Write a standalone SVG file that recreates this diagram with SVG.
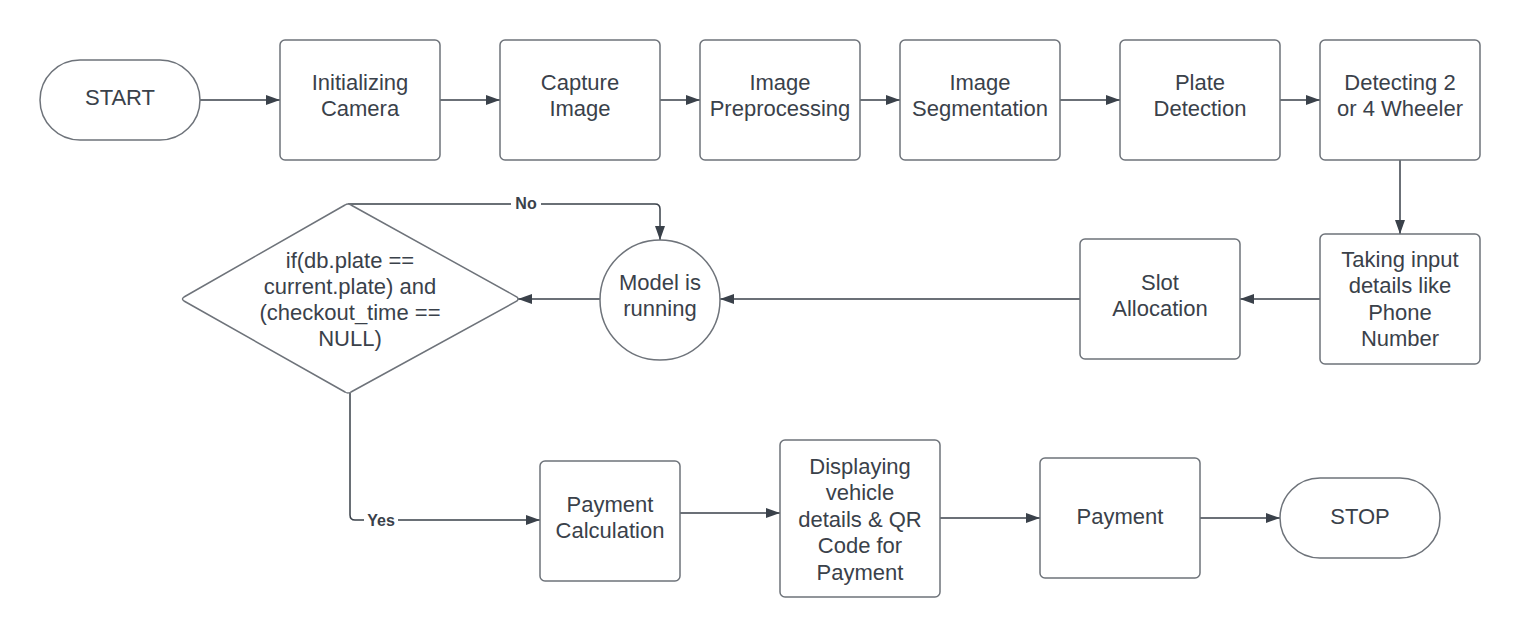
<svg xmlns="http://www.w3.org/2000/svg" width="1520" height="637" viewBox="0 0 1520 637">
<defs>
<style>
.box{fill:#ffffff;stroke:#6e737a;stroke-width:1.5}
.t{font-family:"Liberation Sans",Arial,sans-serif;font-size:22px;fill:#3a414a;text-anchor:middle}
.lbl{font-family:"Liberation Sans",Arial,sans-serif;font-size:16px;font-weight:bold;fill:#3a414a;text-anchor:middle}
.c{fill:none;stroke:#3a414a;stroke-width:1.5}
</style>
<marker id="ah" viewBox="0 0 14 10" refX="14" refY="5" markerWidth="14" markerHeight="10" markerUnits="userSpaceOnUse" orient="auto">
<path d="M0,0 L14,5 L0,10 Z" fill="#3a414a"/>
</marker>
</defs>
<rect width="1520" height="637" fill="#ffffff"/>
<g id="connectors">
<path class="c" d="M200,100 H280" marker-end="url(#ah)"/>
<path class="c" d="M440,100 H500" marker-end="url(#ah)"/>
<path class="c" d="M660,100 H700" marker-end="url(#ah)"/>
<path class="c" d="M860,100 H900" marker-end="url(#ah)"/>
<path class="c" d="M1060,100 H1120" marker-end="url(#ah)"/>
<path class="c" d="M1280,100 H1320" marker-end="url(#ah)"/>
<path class="c" d="M1400,160 V234" marker-end="url(#ah)"/>
<path class="c" d="M1320,299 H1240" marker-end="url(#ah)"/>
<path class="c" d="M1080,299 H720" marker-end="url(#ah)"/>
<path class="c" d="M600,299 H518" marker-end="url(#ah)"/>
<path class="c" d="M348,204 H655 Q660,204 660,209 V240" marker-end="url(#ah)"/>
<path class="c" d="M350,393 V515 Q350,520 355,520 H540" marker-end="url(#ah)"/>
<path class="c" d="M680,513 H780" marker-end="url(#ah)"/>
<path class="c" d="M940,518 H1040" marker-end="url(#ah)"/>
<path class="c" d="M1200,518 H1280" marker-end="url(#ah)"/>
<rect x="511" y="194" width="30" height="19" fill="#ffffff"/>
<text class="lbl" x="526" y="209">No</text>
<rect x="364" y="511" width="34" height="19" fill="#ffffff"/>
<text class="lbl" x="381" y="526">Yes</text>
</g>
<g id="start">
<rect class="box" x="40" y="60" width="160" height="80" rx="40"/>
<text class="t" x="120" y="105">START</text>
</g>
<g id="init-camera">
<rect class="box" x="280" y="40" width="160" height="120" rx="5"/>
<text class="t" x="360" y="90">Initializing</text>
<text class="t" x="360" y="116">Camera</text>
</g>
<g id="capture-image">
<rect class="box" x="500" y="40" width="160" height="120" rx="5"/>
<text class="t" x="580" y="90">Capture</text>
<text class="t" x="580" y="116">Image</text>
</g>
<g id="image-preprocessing">
<rect class="box" x="700" y="40" width="160" height="120" rx="5"/>
<text class="t" x="780" y="90">Image</text>
<text class="t" x="780" y="116">Preprocessing</text>
</g>
<g id="image-segmentation">
<rect class="box" x="900" y="40" width="160" height="120" rx="5"/>
<text class="t" x="980" y="90">Image</text>
<text class="t" x="980" y="116">Segmentation</text>
</g>
<g id="plate-detection">
<rect class="box" x="1120" y="40" width="160" height="120" rx="5"/>
<text class="t" x="1200" y="90">Plate</text>
<text class="t" x="1200" y="116">Detection</text>
</g>
<g id="detecting-wheeler">
<rect class="box" x="1320" y="40" width="160" height="120" rx="5"/>
<text class="t" x="1400" y="90">Detecting 2</text>
<text class="t" x="1400" y="116">or 4 Wheeler</text>
</g>
<g id="taking-input">
<rect class="box" x="1320" y="234" width="160" height="130" rx="5"/>
<text class="t" x="1400" y="267">Taking input</text>
<text class="t" x="1400" y="293">details like</text>
<text class="t" x="1400" y="320">Phone</text>
<text class="t" x="1400" y="346">Number</text>
</g>
<g id="slot-allocation">
<rect class="box" x="1080" y="239" width="160" height="120" rx="5"/>
<text class="t" x="1160" y="290">Slot</text>
<text class="t" x="1160" y="316">Allocation</text>
</g>
<g id="model-running">
<circle class="box" cx="660" cy="300" r="60"/>
<text class="t" x="660" y="290">Model is</text>
<text class="t" x="660" y="316">running</text>
</g>
<g id="decision">
<path class="box" d="M345,205 Q348,203 351,205 L517,297 Q519,299 517,301 L351,392 Q348,394 345,392 L184,301 Q181,299 184,297 Z"/>
<text class="t" x="350" y="268">if(db.plate ==</text>
<text class="t" x="350" y="294">current.plate) and</text>
<text class="t" x="350" y="320">(checkout_time ==</text>
<text class="t" x="350" y="346">NULL)</text>
</g>
<g id="payment-calculation">
<rect class="box" x="540" y="461" width="140" height="120" rx="5"/>
<text class="t" x="610" y="512">Payment</text>
<text class="t" x="610" y="538">Calculation</text>
</g>
<g id="displaying-details">
<rect class="box" x="780" y="440" width="160" height="157" rx="5"/>
<text class="t" x="860" y="474">Displaying</text>
<text class="t" x="860" y="500">vehicle</text>
<text class="t" x="860" y="527">details &amp; QR</text>
<text class="t" x="860" y="553">Code for</text>
<text class="t" x="860" y="580">Payment</text>
</g>
<g id="payment">
<rect class="box" x="1040" y="458" width="160" height="120" rx="5"/>
<text class="t" x="1120" y="524">Payment</text>
</g>
<g id="stop">
<rect class="box" x="1280" y="478" width="160" height="80" rx="40"/>
<text class="t" x="1360" y="524">STOP</text>
</g>
</svg>
